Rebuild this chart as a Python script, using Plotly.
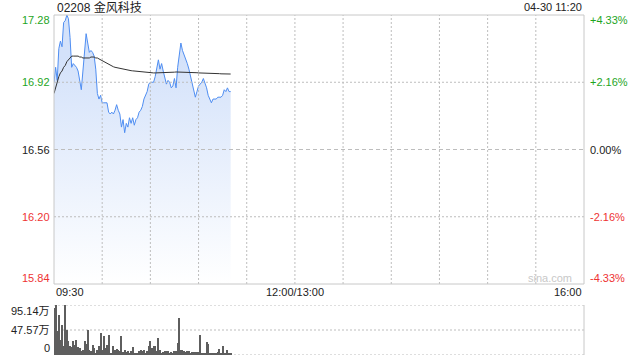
import plotly.graph_objects as go

# ---------------- data ----------------
title_text = "02208 金风科技"
stamp_text = "04-30 11:20"
prev_close = 16.56

# minutes since 09:30 (trading minutes; 0..330 spans the session)
minutes = list(range(111))

price = [16.92, 17.00, 16.93, 17.10, 17.14, 17.11, 17.24, 17.25, 17.28, 17.26,
         17.16, 17.00, 17.02, 17.01, 17.00, 16.98, 16.93, 16.88, 16.98, 17.08,
         17.18, 17.13, 17.08, 17.09, 17.08, 17.06, 16.99, 16.86, 16.83, 16.85,
         16.81, 16.81, 16.81, 16.81, 16.76, 16.75, 16.76, 16.75, 16.77, 16.80,
         16.77, 16.75, 16.68, 16.72, 16.65, 16.70, 16.68, 16.73, 16.70, 16.73,
         16.69, 16.72, 16.73, 16.76, 16.77, 16.79, 16.83, 16.85, 16.87, 16.91,
         16.92, 16.92, 16.92, 16.95, 16.99, 17.04, 16.99, 17.02, 16.98, 16.94,
         16.91, 16.93, 16.92, 16.89, 16.90, 16.94, 16.89, 17.00, 17.08, 17.13,
         17.09, 17.07, 17.05, 17.02, 16.99, 16.95, 16.92, 16.88, 16.84, 16.87,
         16.90, 16.91, 16.92, 16.94, 16.92, 16.89, 16.85, 16.83, 16.81, 16.83,
         16.83, 16.83, 16.84, 16.84, 16.84, 16.85, 16.88, 16.87, 16.89, 16.87, 16.87]

avg_price = [16.86, 16.89, 16.93, 16.95, 16.97, 16.98, 17.00, 17.01, 17.03, 17.04,
             17.05, 17.06, 17.06, 17.06, 17.06, 17.06, 17.055, 17.055, 17.05, 17.05,
             17.05, 17.05, 17.05, 17.055, 17.055, 17.055, 17.05, 17.05, 17.045, 17.04,
             17.035, 17.03, 17.025, 17.02, 17.015, 17.01, 17.005, 17.003, 17.0, 16.998,
             16.995, 16.993, 16.99, 16.988, 16.986, 16.985, 16.984, 16.983, 16.982, 16.981,
             16.98, 16.978, 16.977, 16.976, 16.975, 16.974, 16.973, 16.972, 16.972, 16.971,
             16.971, 16.970, 16.970, 16.970, 16.970, 16.970, 16.970, 16.970, 16.971, 16.971,
             16.972, 16.972, 16.973, 16.973, 16.974, 16.974, 16.975, 16.975, 16.975, 16.975,
             16.975, 16.975, 16.974, 16.974, 16.973, 16.973, 16.972, 16.972, 16.971, 16.971,
             16.970, 16.970, 16.970, 16.969, 16.969, 16.968, 16.968, 16.968, 16.967, 16.967,
             16.967, 16.966, 16.966, 16.966, 16.965, 16.965, 16.965, 16.964, 16.964, 16.964, 16.964]

# volume in 万 shares
volume = [89, 95.14, 45, 76.7, 29, 57.7, 16.5, 94.5, 48, 26,
          16.5, 14.6, 27, 19.7, 28, 14.6, 13.3, 8, 10, 26,
          21.5, 48, 10, 8, 19.7, 13.3, 4, 10, 16.5, 42,
          10, 35.5, 13.3, 19.7, 37.4, 4, 4, 17.8, 10, 11.4,
          10, 7, 35.5, 5.7, 10, 5.7, 8, 4, 7, 14.6,
          4, 4, 4, 7, 9, 8, 10, 4, 8, 16.5,
          26, 13.3, 16.5, 16.5, 7, 32, 10, 4, 5.7, 7,
          7, 7, 4, 5, 4, 7, 8, 23, 70.4, 10,
          10, 8, 5.7, 8, 7, 4, 5.7, 5.7, 5.7, 5.7,
          5, 38.7, 2, 2, 4, 24.7, 21.5, 2, 4, 2,
          2, 4, 5.7, 12, 4, 17.8, 2, 4, 10, 2, 2]

price_ticks = [17.28, 16.92, 16.56, 16.20, 15.84]
pct_ticks = ["+4.33%", "+2.16%", "0.00%", "-2.16%", "-4.33%"]
vol_ticks = [95.14, 47.57, 0]
vol_tick_labels = ["95.14万", "47.57万", "0"]
time_ticks = [0, 150, 330]
time_tick_labels = ["09:30", "12:00/13:00", "16:00"]
grid_minutes = [30, 60, 90, 120, 150, 180, 210, 240, 270, 300]

# ---------------- styling ----------------
W, H = 640, 360
FONT = "Liberation Sans, Arial, Noto Sans CJK SC, sans-serif"
GREEN = "#1ea51e"
RED = "#ee3333"
DARK = "#222222"
GRID = "#bdbdbd"
FRAME = "#c8c8c8"
DOT = "2px,2px"

p_top, p_bot = 15, 284
v_top, v_bot = 305, 355
x_left, x_right = 54, 584


def px_x(px):
    return (px - x_left) / (x_right - x_left)


def px_y(py):
    return 1 - py / H


fig = go.Figure()

# base line for the gradient fill
fig.add_trace(go.Scatter(x=minutes, y=[price_ticks[-1]] * len(minutes), mode="lines",
                         line=dict(width=0), hoverinfo="skip", showlegend=False,
                         xaxis="x", yaxis="y"))
fig.add_trace(go.Scatter(x=minutes, y=price, mode="lines",
                         line=dict(color="#4f8ef2", width=1),
                         fill="tonexty",
                         fillgradient=dict(type="vertical",
                                           colorscale=[[0, "rgba(255,255,255,1)"],
                                                       [1, "rgba(212,226,250,1)"]],
                                           start=price_ticks[-1], stop=17.05),
                         showlegend=False, xaxis="x", yaxis="y"))
fig.add_trace(go.Scatter(x=minutes, y=avg_price, mode="lines",
                         line=dict(color="#333333", width=1),
                         showlegend=False, xaxis="x", yaxis="y"))
fig.add_trace(go.Bar(x=minutes, y=volume, width=0.62,
                     marker=dict(color="#5e5e5e", line=dict(width=0)),
                     showlegend=False, xaxis="x2", yaxis="y2"))

shapes = []
# vertical dotted grid in price panel
for m in grid_minutes:
    shapes.append(dict(type="line", xref="x", yref="paper", x0=m, x1=m,
                       y0=px_y(p_bot), y1=px_y(p_top),
                       line=dict(color=GRID, width=1, dash=DOT), layer="above"))
# horizontal grid in price panel
for v in price_ticks[1:-1]:
    shapes.append(dict(type="line", xref="paper", yref="y", x0=0, x1=1, y0=v, y1=v,
                       line=dict(color=GRID, width=1,
                                 dash="4px,3px" if v == prev_close else DOT),
                       layer="above"))
# price frame
shapes.append(dict(type="rect", xref="paper", yref="paper", x0=0, x1=1,
                   y0=px_y(p_bot), y1=px_y(p_top),
                   line=dict(color=FRAME, width=1)))
# volume grid lines
for v in vol_ticks:
    shapes.append(dict(type="line", xref="paper", yref="y2", x0=0, x1=1, y0=v, y1=v,
                       line=dict(color=GRID, width=1, dash=DOT), layer="below"))
shapes.append(dict(type="line", xref="paper", yref="paper", x0=1, x1=1,
                   y0=px_y(v_bot), y1=px_y(v_top), line=dict(color=FRAME, width=1)))

ann = []
ann.append(dict(text=title_text, xref="paper", yref="paper", x=px_x(55), y=px_y(7),
                xanchor="left", yanchor="middle", showarrow=False,
                font=dict(family=FONT, size=12, color=DARK)))
ann.append(dict(text=stamp_text, xref="paper", yref="paper", x=px_x(x_right), y=px_y(7),
                xanchor="right", yanchor="middle", showarrow=False,
                font=dict(family=FONT, size=11, color=DARK)))
ann.append(dict(text="sina.com", xref="paper", yref="paper", x=px_x(574), y=px_y(278),
                xanchor="right", yanchor="middle", showarrow=False,
                font=dict(family=FONT, size=11, color="#c8c8c8")))

shifts = [-5, 0, 0, 0, 6]
for i, v in enumerate(price_ticks):
    col = GREEN if v > prev_close else (RED if v < prev_close else DARK)
    ann.append(dict(text=f"{v:.2f}", xref="paper", yref="y", x=px_x(52), y=v,
                    yshift=shifts[i], xanchor="right", yanchor="middle", showarrow=False,
                    font=dict(family=FONT, size=11, color=col)))
    ann.append(dict(text=pct_ticks[i], xref="paper", yref="y", x=px_x(588), y=v,
                    yshift=shifts[i], xanchor="left", yanchor="middle", showarrow=False,
                    font=dict(family=FONT, size=11, color=col)))

vshifts = [-6, 0, 7]
for i, v in enumerate(vol_ticks):
    ann.append(dict(text=vol_tick_labels[i], xref="paper", yref="y2", x=px_x(52), y=v,
                    yshift=vshifts[i], xanchor="right", yanchor="middle", showarrow=False,
                    font=dict(family=FONT, size=11, color=DARK)))

anchors = ["left", "center", "right"]
for i, m in enumerate(time_ticks):
    ann.append(dict(text=time_tick_labels[i], xref="x", yref="paper", x=m, y=px_y(292),
                    xanchor=anchors[i], yanchor="middle", showarrow=False,
                    font=dict(family=FONT, size=11, color=DARK)))

axis_common = dict(showgrid=False, zeroline=False, showticklabels=False, showline=False,
                   ticks="", fixedrange=True)

fig.update_layout(
    width=W, height=H,
    margin=dict(l=x_left, r=W - x_right, t=0, b=0),
    paper_bgcolor="white", plot_bgcolor="white",
    xaxis=dict(range=[0, 330], domain=[0, 1], anchor="y", **axis_common),
    yaxis=dict(range=[price_ticks[-1], price_ticks[0]],
               domain=[px_y(p_bot), px_y(p_top)], anchor="x", **axis_common),
    xaxis2=dict(range=[0, 330], domain=[0, 1], anchor="y2", **axis_common),
    yaxis2=dict(range=[0, vol_ticks[0]], domain=[px_y(v_bot), px_y(v_top)],
                anchor="x2", **axis_common),
    shapes=shapes, annotations=ann, bargap=0, showlegend=False,
)

fig.write_html("out.html", config={"displayModeBar": False})
